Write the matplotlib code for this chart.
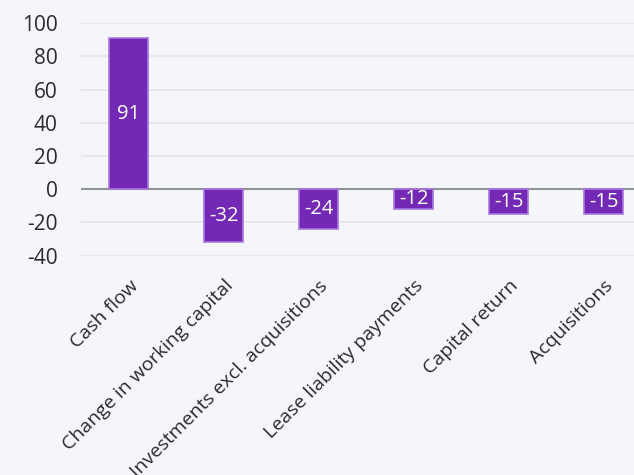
import matplotlib.pyplot as plt

# Data
categories = ["Cash flow", "Change in working capital", "Investments excl. acquisitions",
              "Lease liability payments", "Capital return", "Acquisitions"]
values = [91, -32, -24, -12, -15, -15]
yticks = [-40, -20, 0, 20, 40, 60, 80, 100]

bg = "#f5f6fb"
plt.rcParams['font.family'] = ['Open Sans', 'DejaVu Sans']

fig = plt.figure(figsize=(6.34, 4.75), dpi=100, facecolor=bg)
# axes run past the right edge of the figure, as in the original
ax = fig.add_axes([0.1285, 0.4617, 0.899, 0.4893], facecolor=bg)

x = range(len(categories))
ax.bar(x, values, width=0.41, color="#7329b5", edgecolor="#a977e0", linewidth=1.2, zorder=3)

for i, v in zip(x, values):
    ax.text(i, v / 2, str(v), ha="center", va="center", color="white", fontsize=14.5, zorder=4)

ax.set_xlim(-0.5, len(categories) - 0.5)
ax.set_ylim(-40, 100)
ax.set_yticks(yticks)
ax.set_yticklabels([str(t) for t in yticks])
ax.grid(axis="y", color="#e3e4ea", linewidth=1.2, zorder=0)
ax.axhline(0, color="#8e9396", linewidth=1.5, zorder=2)

ax.set_xticks(list(x))
ax.set_xticklabels(categories, rotation=45, ha="right", va="top", rotation_mode="anchor")

ax.tick_params(axis="y", length=0, pad=17, labelsize=15, labelcolor="#2b2b2b")
ax.tick_params(axis="x", length=0, pad=15, labelsize=14, labelcolor="#2b2b2b")
for s in ax.spines.values():
    s.set_visible(False)

fig.savefig("out.png", dpi=100, facecolor=bg)
